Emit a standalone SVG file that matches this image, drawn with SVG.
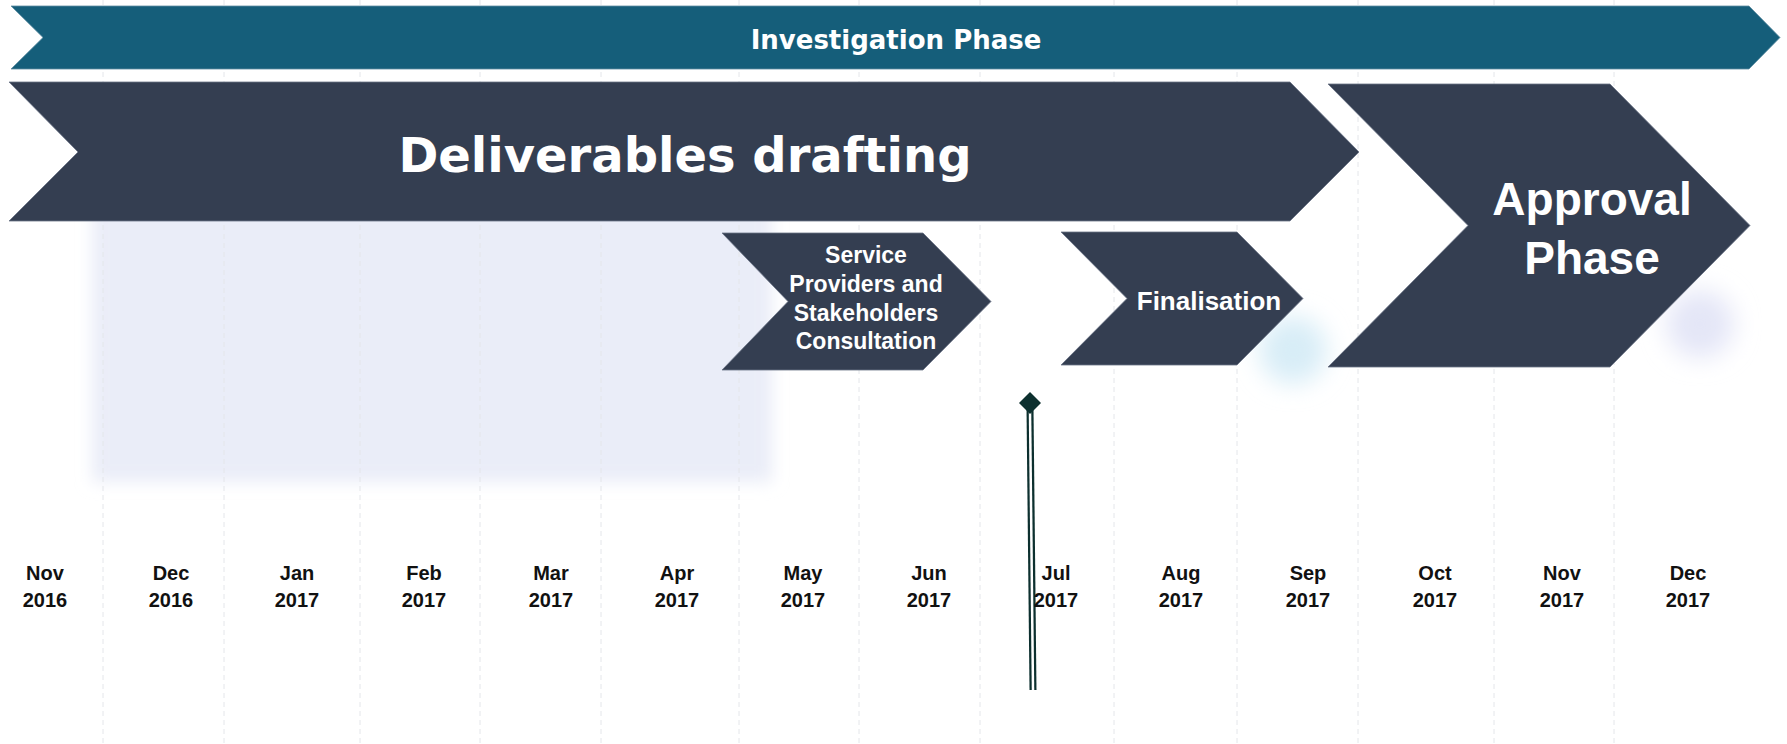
<svg xmlns="http://www.w3.org/2000/svg" width="1787" height="744" viewBox="0 0 1787 744">
<style>
.grid{stroke:#e4e6ea;stroke-width:1;stroke-dasharray:5 4;fill:none}
.dark{fill:#343e51;stroke:#6b7486;stroke-width:0.8}
.teal{fill:#155e7a;stroke:#5f8ea2;stroke-width:0.8}
.vt{font-family:"DejaVu Sans",Verdana,sans-serif;font-weight:bold;fill:#ffffff;text-anchor:middle}
.at{font-family:"Liberation Sans",Arial,sans-serif;font-weight:bold;fill:#ffffff;text-anchor:middle}
.mt{font-family:"Liberation Sans",Arial,sans-serif;font-weight:bold;font-size:20px;fill:#111111;text-anchor:middle}
</style>
<defs>
<filter id="blur8" x="-20%" y="-20%" width="140%" height="140%"><feGaussianBlur stdDeviation="8"/></filter>
<filter id="blur12" x="-80%" y="-80%" width="260%" height="260%"><feGaussianBlur stdDeviation="12"/></filter>
</defs>
<rect width="1787" height="744" fill="#ffffff"/>
<g id="background">
<rect x="92" y="200" width="680" height="282" fill="#eaedf8" filter="url(#blur8)"/>
<circle cx="1293" cy="350" r="34" fill="#d8edf7" filter="url(#blur12)"/>
<circle cx="1700" cy="324" r="34" fill="#e4e6f7" filter="url(#blur12)"/>
</g>
<g id="grid">
<line class="grid" x1="103" y1="0" x2="103" y2="744"/>
<line class="grid" x1="224" y1="0" x2="224" y2="744"/>
<line class="grid" x1="360" y1="0" x2="360" y2="744"/>
<line class="grid" x1="480" y1="0" x2="480" y2="744"/>
<line class="grid" x1="601" y1="0" x2="601" y2="744"/>
<line class="grid" x1="739" y1="0" x2="739" y2="744"/>
<line class="grid" x1="859" y1="0" x2="859" y2="744"/>
<line class="grid" x1="980" y1="0" x2="980" y2="744"/>
<line class="grid" x1="1114" y1="0" x2="1114" y2="744"/>
<line class="grid" x1="1237" y1="0" x2="1237" y2="744"/>
<line class="grid" x1="1358" y1="0" x2="1358" y2="744"/>
<line class="grid" x1="1494" y1="0" x2="1494" y2="744"/>
<line class="grid" x1="1614" y1="0" x2="1614" y2="744"/>
</g>
<g id="investigation-phase">
<path class="teal" d="M11,6 L1749,6 L1780,37.5 L1749,69 L11,69 L43,37.5 Z"/>
<text class="vt" x="896" y="49" font-size="26">Investigation Phase</text>
</g>
<g id="deliverables-drafting">
<path class="dark" d="M9,82 L1290,82 L1359,152 L1290,221 L9,221 L78,152 Z"/>
<text class="vt" x="685" y="172" font-size="48">Deliverables drafting</text>
</g>
<g id="approval-phase">
<path class="dark" d="M1328,84 L1610,84 L1750,225.5 L1610,367 L1328,367 L1468,225.5 Z"/>
<text class="at" x="1592" y="215" font-size="46">Approval</text>
<text class="at" x="1592" y="274" font-size="46">Phase</text>
</g>
<g id="consultation">
<path class="dark" d="M722,233 L923,233 L991,301.5 L923,370 L722,370 L788,301.5 Z"/>
<text class="at" x="866" y="263" font-size="23">Service</text>
<text class="at" x="866" y="292" font-size="23">Providers and</text>
<text class="at" x="866" y="321" font-size="23">Stakeholders</text>
<text class="at" x="866" y="349" font-size="23">Consultation</text>
</g>
<g id="finalisation">
<path class="dark" d="M1061,232 L1237,232 L1303,298.5 L1237,365 L1061,365 L1127,298.5 Z"/>
<text class="at" x="1209" y="310" font-size="26">Finalisation</text>
</g>
<g id="milestone">
<path d="M1030,408 L1033,690" stroke="#0d302f" stroke-width="7" fill="none"/>
<path d="M1030,411 L1033,690" stroke="#ffffff" stroke-width="2.5" fill="none"/>
<path d="M1030,392 L1041,403 L1030,414 L1019,403 Z" fill="#0d302f"/>
</g>
<g id="months">
<text class="mt" x="45" y="580">Nov</text><text class="mt" x="45" y="607">2016</text>
<text class="mt" x="171" y="580">Dec</text><text class="mt" x="171" y="607">2016</text>
<text class="mt" x="297" y="580">Jan</text><text class="mt" x="297" y="607">2017</text>
<text class="mt" x="424" y="580">Feb</text><text class="mt" x="424" y="607">2017</text>
<text class="mt" x="551" y="580">Mar</text><text class="mt" x="551" y="607">2017</text>
<text class="mt" x="677" y="580">Apr</text><text class="mt" x="677" y="607">2017</text>
<text class="mt" x="803" y="580">May</text><text class="mt" x="803" y="607">2017</text>
<text class="mt" x="929" y="580">Jun</text><text class="mt" x="929" y="607">2017</text>
<text class="mt" x="1056" y="580">Jul</text><text class="mt" x="1056" y="607">2017</text>
<text class="mt" x="1181" y="580">Aug</text><text class="mt" x="1181" y="607">2017</text>
<text class="mt" x="1308" y="580">Sep</text><text class="mt" x="1308" y="607">2017</text>
<text class="mt" x="1435" y="580">Oct</text><text class="mt" x="1435" y="607">2017</text>
<text class="mt" x="1562" y="580">Nov</text><text class="mt" x="1562" y="607">2017</text>
<text class="mt" x="1688" y="580">Dec</text><text class="mt" x="1688" y="607">2017</text>
</g>
</svg>
